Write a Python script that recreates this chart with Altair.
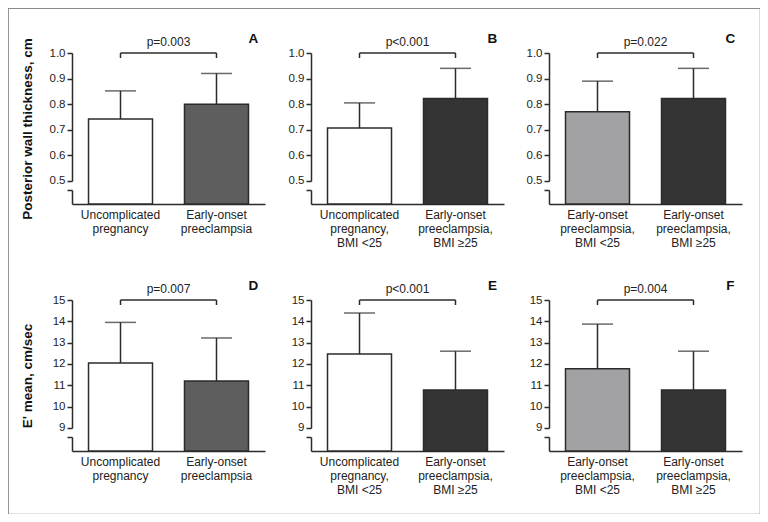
import altair as alt
import pandas as pd

# ---------------- data ----------------
letters = ["A", "B", "C", "D", "E", "F"]
p_texts = ["p=0.003", "p<0.001", "p=0.022", "p=0.007", "p<0.001", "p=0.004"]

cats_1 = ["Uncomplicated|pregnancy", "Early-onset|preeclampsia"]
cats_2 = ["Uncomplicated|pregnancy,|BMI <25", "Early-onset|preeclampsia,|BMI ≥25"]
cats_3 = ["Early-onset|preeclampsia,|BMI <25", "Early-onset|preeclampsia,|BMI ≥25"]

pw_means_A = [0.742, 0.800]
pw_sd_A = [0.110, 0.120]
pw_means_B = [0.707, 0.822]
pw_sd_B = [0.098, 0.118]
pw_means_C = [0.770, 0.822]
pw_sd_C = [0.120, 0.118]

e_means_D = [12.05, 11.20]
e_sd_D = [1.90, 2.02]
e_means_E = [12.47, 10.78]
e_sd_E = [1.92, 1.82]
e_means_F = [11.78, 10.78]
e_sd_F = [2.09, 1.82]

colors_1 = ["#ffffff", "#5e5e5e"]
colors_2 = ["#ffffff", "#343434"]
colors_3 = ["#a2a2a5", "#343434"]

ticks_top = [0.5, 0.6, 0.7, 0.8, 0.9, 1.0]
ticks_bottom = [9, 10, 11, 12, 13, 14, 15]

title_top = "Posterior wall thickness, cm"
title_bottom = "E' mean, cm/sec"

# ---------------- layout ----------------
W, H = 752, 506
PANEL_X0 = [64, 303, 541]
PANEL_W = 193
ROWS = [
    dict(ybot=196, ytop=45, lo=0.41, hi=1.0, brk=0.465, ticks=ticks_top,
         fmt=".1f", title=title_top, tip=5),
    dict(ybot=443, ytop=292, lo=7.92, hi=15.0, brk=8.58, ticks=ticks_bottom,
         fmt="d", title=title_bottom, tip=5),
]
INK = "#2b2b2b"
FONT = "Liberation Sans"


def panel(cats, means, sds, colors, ptext, letter, col, row):
    r = ROWS[row]
    x0 = PANEL_X0[col]
    df = pd.DataFrame({
        "cat": cats,
        "mean": means,
        "top": [m + s for m, s in zip(means, sds)],
        "color": colors,
    })
    xscale = alt.Scale(domain=cats, range=[x0, x0 + PANEL_W],
                       paddingInner=1 / 3, paddingOuter=0.172)
    yscale = alt.Scale(domain=[r["lo"], r["hi"]], range=[r["ybot"], r["ytop"]],
                       nice=False, zero=False)
    xaxis = alt.Axis(orient="bottom", offset=r["ybot"] - H, title=None,
                     ticks=False, labelAngle=0,
                     labelExpr="split(datum.label, '|')",
                     labelLineHeight=14, labelPadding=5, labelFontSize=12,
                     labelColor="#222", labelBaseline="top",
                     domainColor=INK, domainWidth=1.5)
    label_expr = ("datum.value < %s ? '' : format(datum.value, '%s')"
                  % (r["ticks"][0] - 0.001 * (r["hi"] - r["lo"]), r["fmt"]))
    yaxis = alt.Axis(orient="left", offset=-x0,
                     values=[r["brk"]] + r["ticks"],
                     labelExpr=label_expr, labelFontSize=11.5, labelColor="#222",
                     labelPadding=2, tickSize=5, tickWidth=1.5, tickColor=INK,
                     domainColor=INK, domainWidth=1.5, domainDash=[14, 9, 400],
                     grid=False,
                     title=r["title"] if col == 0 else None,
                     titleFontSize=13.5, titleFontWeight="bold", titleColor="#111",
                     titleX=-45, titleBaseline="middle")

    x = alt.X("cat:N", scale=xscale, sort=cats, axis=xaxis)
    base = alt.Chart(df)

    bars = base.mark_bar(stroke=INK, strokeWidth=1.5).encode(
        x=x,
        y=alt.Y("mean:Q", scale=yscale, axis=yaxis),
        y2=alt.datum(r["lo"]),
        fill=alt.Fill("color:N", scale=None),
    )
    err = base.mark_rule(color=INK, strokeWidth=1.5).encode(
        x=x, y="mean:Q", y2="top:Q")
    caps = base.mark_tick(orient="horizontal", size=31, thickness=1.5,
                          color=INK).encode(x=x, y="top:Q")

    bdf = pd.DataFrame({"a": [cats[0]], "b": [cats[1]], "y": [r["hi"]],
                        "t": [ptext]})
    bracket = alt.Chart(bdf).mark_rule(color=INK, strokeWidth=1.5).encode(
        x=alt.X("a:N"), x2="b:N", y="y:Q")
    tdf = pd.DataFrame({"cat": cats, "y": [r["hi"], r["hi"]]})
    tips = alt.Chart(tdf).mark_rule(color=INK, strokeWidth=1.5,
                                    y2Offset=r["tip"]).encode(
        x=alt.X("cat:N"), y="y:Q", y2="y:Q")
    ptxt = alt.Chart(bdf).mark_text(font=FONT, fontSize=12, color="#222",
                                    dy=-11, dx=PANEL_W / 2 / 2.0104,
                                    baseline="middle").encode(
        x=alt.X("a:N"), y="y:Q", text="t:N")
    ldf = pd.DataFrame({"b": [cats[1]], "y": [r["hi"]], "t": [letter]})
    let = alt.Chart(ldf).mark_text(font=FONT, fontSize=13.5, fontWeight="bold",
                                   color="#111", dx=37, dy=-14,
                                   baseline="middle").encode(
        x=alt.X("b:N"), y="y:Q", text="t:N")

    return alt.layer(bars, err, caps, bracket, tips, ptxt, let)


panels = [
    panel(cats_1, pw_means_A, pw_sd_A, colors_1, p_texts[0], letters[0], 0, 0),
    panel(cats_2, pw_means_B, pw_sd_B, colors_2, p_texts[1], letters[1], 1, 0),
    panel(cats_3, pw_means_C, pw_sd_C, colors_3, p_texts[2], letters[2], 2, 0),
    panel(cats_1, e_means_D, e_sd_D, colors_1, p_texts[3], letters[3], 0, 1),
    panel(cats_2, e_means_E, e_sd_E, colors_2, p_texts[4], letters[4], 1, 1),
    panel(cats_3, e_means_F, e_sd_F, colors_3, p_texts[5], letters[5], 2, 1),
]

chart = alt.layer(*panels).resolve_scale(
    x="independent", y="independent"
).properties(
    width=W, height=H, padding=0,
    autosize=alt.AutoSizeParams(type="none"),
    background="#ffffff",
).configure_view(
    stroke="#8a8a8a", strokeWidth=1.2
).configure_axis(
    labelFont=FONT, titleFont=FONT
)

chart.save("out.html", embed_options={"renderer": "svg", "actions": False})
